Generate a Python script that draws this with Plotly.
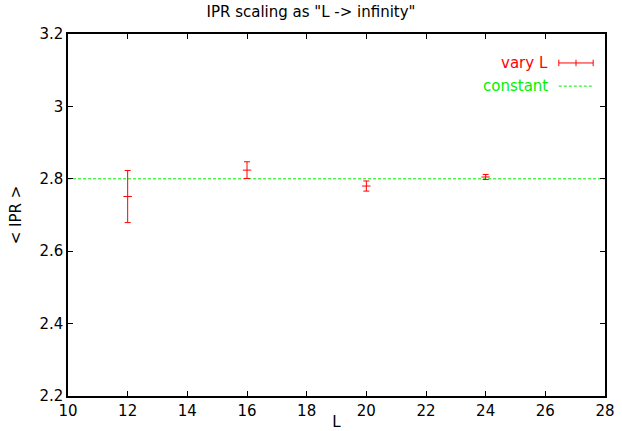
import plotly.graph_objects as go

# Data
L_values = [12, 16, 20, 24]
ipr_mean = [2.751, 2.824, 2.780, 2.805]
ipr_err = [0.072, 0.023, 0.014, 0.007]
constant_value = 2.80

x_range = [10, 28]
y_range = [2.2, 3.2]
x_ticks = [10, 12, 14, 16, 18, 20, 22, 24, 26, 28]
y_ticks = [2.2, 2.4, 2.6, 2.8, 3.0, 3.2]
y_tick_labels = ["2.2", "2.4", "2.6", "2.8", "3", "3.2"]

RED = "#ff0000"
GREEN = "#00f000"
FONT = "DejaVu Sans, Liberation Sans, sans-serif"
FS = 15

fig = go.Figure()

fig.add_trace(go.Scatter(
    x=x_range, y=[constant_value, constant_value],
    mode="lines", line=dict(color=GREEN, width=1, dash="3px,2px"),
    showlegend=False, hoverinfo="skip"))

fig.add_trace(go.Scatter(
    x=L_values, y=ipr_mean, mode="markers",
    marker=dict(symbol="line-ew", size=6, line=dict(color=RED, width=1)),
    error_y=dict(type="data", array=ipr_err, visible=True,
                 color=RED, thickness=1, width=3),
    showlegend=False))

axis_common = dict(
    showgrid=False, zeroline=False, showline=True, linecolor="black",
    linewidth=1.5, mirror="allticks", ticks="inside", ticklen=5,
    tickcolor="black", tickwidth=1, automargin=False,
    tickfont=dict(family=FONT, size=FS, color="black"))

fig.update_xaxes(range=x_range, tickvals=x_ticks, **axis_common,
                 title=dict(text="L", font=dict(family=FONT, size=FS, color="black"), standoff=0))
fig.update_yaxes(range=y_range, tickvals=y_ticks, ticktext=y_tick_labels, **axis_common,
                 title=dict(text="&lt; IPR &gt;", font=dict(family=FONT, size=FS, color="black"), standoff=14))

# Gnuplot-style key: text left, sample right
fig.add_annotation(xref="paper", yref="paper", x=0.8976, y=0.920, xanchor="right", yanchor="middle",
                   text="vary L", showarrow=False, font=dict(family=FONT, size=FS, color=RED))
fig.add_annotation(xref="paper", yref="paper", x=0.8976, y=0.856, xanchor="right", yanchor="middle",
                   text="constant", showarrow=False, font=dict(family=FONT, size=FS, color=GREEN))
fig.add_shape(type="line", xref="paper", yref="paper", x0=0.914, x1=0.978, y0=0.920, y1=0.920,
              line=dict(color=RED, width=1))
for xp in [0.914, 0.946, 0.978]:
    fig.add_shape(type="line", xref="paper", yref="paper", x0=xp, x1=xp, y0=0.911, y1=0.929,
                  line=dict(color=RED, width=1))
fig.add_shape(type="line", xref="paper", yref="paper", x0=0.914, x1=0.978, y0=0.856, y1=0.856,
              line=dict(color=GREEN, width=1, dash="3px,2px"))

fig.update_layout(
    width=622, height=431,
    margin=dict(l=68, r=17, t=34, b=35, autoexpand=False),
    paper_bgcolor="white", plot_bgcolor="white",
    title=dict(text='IPR scaling as "L -&gt; infinity"', x=0.5, xanchor="center",
               y=0.972, yanchor="middle", font=dict(family=FONT, size=FS, color="black"),
               automargin=False),
    font=dict(family=FONT),
)

fig.write_html("out.html", config={"displayModeBar": False},
               post_script="document.body.style.margin='0';document.body.style.overflow='hidden';")
